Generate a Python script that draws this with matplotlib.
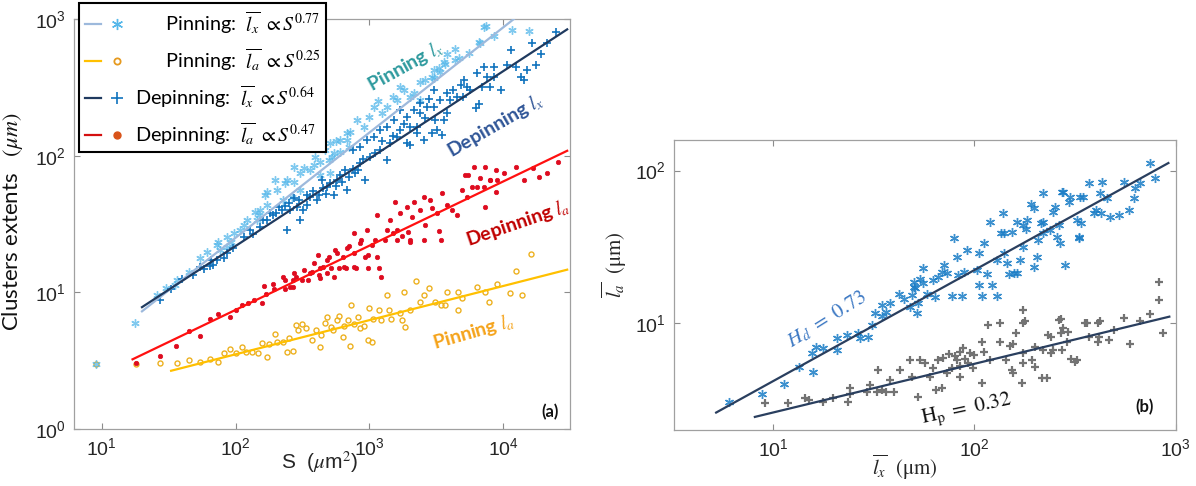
import numpy as np
import matplotlib
matplotlib.use("Agg")
import matplotlib.pyplot as plt
from matplotlib.lines import Line2D
from matplotlib.legend_handler import HandlerTuple
from matplotlib.ticker import NullLocator

plt.rcParams['font.family'] = ['Liberation Sans', 'DejaVu Sans']
plt.rcParams['mathtext.fontset'] = 'stix'

# ---------------- panel (a): cluster extents vs area S ----------------
pin_lx_pts = [(9, 3.0), (17.6, 6.0), (26, 9.5), (30, 10.8), (35, 11.3), (36.5, 12.3), (44.6, 14.2),
              (54.3, 17.7), (61, 19.8), (72.4, 22.2), (73.3, 23.5), (76.7, 20.4), (86.1, 25.5),
              (86.5, 21.6), (92.5, 23.5), (98, 27), (108, 28.6), (115, 31), (121, 33.8), (140, 38.9),
              (144, 33.8), (150, 36.7), (153, 40), (166, 51.5), (171, 43.5), (171, 54.5), (197, 66.3),
              (204, 56), (228, 47.3), (235, 62.7), (242, 66.3), (264, 50), (271, 64.4), (271, 83),
              (304, 74.3), (304, 56), (322, 80.7), (361, 78.5), (383, 85.3), (390, 98.2), (429, 72.1),
              (429, 90.2), (468, 110), (496, 92.9), (510, 123), (510, 74.3), (525, 98.2), (545, 104),
              (560, 128), (606, 107), (606, 130), (680, 130), (680, 146), (699, 116), (720, 150),
              (807, 182), (904, 163), (986, 193), (1074, 228), (1150, 250), (1242, 204), (1355, 228),
              (1500, 270), (1607, 255), (1703, 319), (1800, 300), (2000, 270), (2143, 286), (2404, 347),
              (2404, 255), (2600, 360), (2910, 378), (3020, 423), (3020, 367), (3300, 440), (3390, 411),
              (3590, 486), (3700, 470), (3800, 559), (4390, 600), (4390, 500), (4700, 520), (5500, 560),
              (6560, 681), (6740, 663), (7145, 877), (7480, 887), (8490, 750), (11640, 829), (15520, 820)]

pin_la_pts = [(9, 3.0), (17.9, 2.99), (27.1, 3.03), (36.5, 3.03), (45.1, 3.2), (54.3, 3.1), (64.1, 3.24),
              (73.3, 3.07), (81.9, 3.58), (91.2, 3.83), (100.7, 3.58), (111, 3.96), (120, 3.67),
              (133, 3.67), (147, 3.58), (157, 4.24), (171, 3.35), (179, 4.2), (198, 4.95), (204, 4.35),
              (226, 4.3), (241, 3.67), (249, 4.61), (267, 3.75), (281, 5.77), (294, 5.3), (314, 5.85),
              (336, 5.45), (371, 4.48), (396, 5.3), (424, 4.0), (438, 4.87), (468, 5.93), (483, 6.56),
              (517, 5.6), (534, 5.3), (571, 6.27), (590, 6.7), (631, 4.73), (651, 5.7), (697, 6.27),
              (720, 4.05), (730, 8.07), (769, 5.9), (822, 6.56), (849, 5.45), (908, 5.7), (990, 7.64),
              (970, 4.48), (1038, 4.35), (1072, 6.4), (1183, 7.4), (1224, 6.27), (1350, 9.55),
              (1397, 7.4), (1446, 6.4), (1703, 7.02), (1762, 6.27), (1820, 10.1), (1840, 5.6),
              (2010, 7.4), (2220, 12.2), (2370, 8.54), (2535, 9.55), (2800, 10.7), (3090, 8.54),
              (3415, 8.07), (3650, 8.07), (3775, 10.1), (4605, 10.1), (4605, 7.4), (4910, 9.04),
              (6400, 10.9), (7310, 10.1), (7810, 8.54), (8930, 11.5), (11240, 9.84), (12420, 14.3),
              (13740, 9.55), (16200, 19.0)]

dep_lx_pts = [(27.1, 8.79), (33, 10.5), (40, 12.5), (48, 13.5), (54.3, 15.4), (58, 14.8), (64.1, 15.6),
              (65, 17.2), (68.4, 15.8), (72.4, 17.2), (82.5, 17.7), (86.1, 19.3), (96.4, 21), (115, 25.5),
              (129, 28.6), (136, 26.5), (153, 30.2), (160, 34), (171, 33.8), (181, 37.8), (192, 36.7),
              (200, 38), (210, 42), (222, 40), (235, 43), (242, 28.6), (250, 45), (256, 40), (271, 48.7),
              (287, 42.3), (300, 47), (304, 33.8), (320, 40), (341, 43.5), (341, 51.5), (361, 50),
              (380, 55), (405, 47.3), (417, 51.5), (442, 66.3), (450, 58), (470, 52), (482, 59.2),
              (510, 62.7), (540, 51.5), (560, 60), (573, 66.3), (606, 72.1), (620, 64), (661, 78.5),
              (680, 56), (700, 70), (750, 80), (760, 110), (785, 74.3), (820, 78), (854, 116),
              (855, 87.9), (900, 95), (930, 66.3), (959, 130), (1016, 98.2), (1074, 137), (1100, 105),
              (1208, 110), (1208, 154), (1250, 128), (1355, 92.9), (1355, 163), (1432, 123),
              (1500, 140), (1517, 182), (1607, 137), (1703, 216), (1703, 154), (1800, 170), (1900, 123),
              (1910, 193), (2025, 120), (2025, 163), (2143, 216), (2270, 146), (2270, 163), (2404, 242),
              (2404, 204), (2543, 130), (2600, 190), (2697, 228), (2800, 260), (2940, 146), (3020, 302),
              (3020, 228), (3110, 182), (3204, 154), (3390, 255), (3494, 142), (3590, 182), (3800, 286),
              (3800, 204), (3980, 255), (4200, 300), (4520, 270), (4800, 330), (5000, 270), (5120, 357),
              (5370, 319), (5640, 300), (6200, 222), (6380, 400), (6600, 240), (6950, 319), (7145, 448),
              (7570, 378), (8020, 319), (8490, 448), (8490, 378), (9540, 300), (10700, 460),
              (11320, 593), (12500, 448), (13460, 378), (14260, 357), (15100, 423), (16430, 663),
              (17420, 460), (18970, 559), (21300, 663), (24600, 806)]

dep_la_pts = [(17.9, 3.05), (27.1, 3.44), (36.1, 4.05), (45.1, 5.21), (54.3, 4.79), (64.1, 6.34),
              (73.3, 6.94), (91.2, 6.56), (100.7, 7.43), (111, 8.07), (123, 8.3), (137, 8.79),
              (157, 8.4), (162, 11.1), (168, 9.72), (192, 11.6), (194, 10.6), (228, 13), (233, 12.3),
              (233, 10.5), (256, 11), (267, 12.3), (267, 11), (271, 13.8), (285, 13), (314, 12.4),
              (322, 14.6), (347, 12.3), (361, 13.8), (375, 14.2), (383, 16.3), (410, 18.7), (423, 13.4),
              (429, 15), (429, 12.7), (453, 15.4), (482, 13.8), (483, 17.2), (496, 18.2), (517, 15),
              (540, 13), (552, 20.4), (573, 19.3), (590, 15), (631, 18.2), (642, 15.4), (674, 15),
              (680, 21), (700, 22), (762, 27), (762, 15.4), (769, 19.3), (795, 15), (849, 22.8),
              (870, 24), (931, 18.2), (959, 28.6), (970, 15), (970, 18.7), (1038, 22.2), (1107, 24.1),
              (1140, 36.7), (1143, 18.2), (1180, 15), (1224, 13), (1307, 24.1), (1355, 28.6),
              (1432, 33.8), (1492, 27), (1563, 46), (1595, 24.1), (1620, 28.6), (1703, 37.8),
              (1760, 25.8), (1910, 42.3), (1946, 27.8), (2010, 24.1), (2025, 23.4), (2083, 35.7),
              (2143, 46), (2404, 40), (2535, 24.1), (2543, 50), (2600, 31), (2856, 47.3), (2940, 41.2),
              (3204, 37.8), (3300, 28), (3415, 24.1), (3494, 53), (3805, 43.5), (4146, 40), (4520, 36.7),
              (4928, 56), (5218, 72.1), (5370, 50), (5420, 72.1), (5851, 59.2), (6016, 82), (6400, 59.2),
              (6745, 68.2), (7145, 59.2), (7310, 83), (7356, 42.3), (7900, 66), (8020, 66.3),
              (8750, 54.5), (8750, 78.5), (8930, 66.3), (10190, 74.3), (12420, 83), (14190, 66.3),
              (16750, 80.7), (18500, 70.1), (21100, 74.3), (25800, 90.2)]

# power-law fits: (S from, S to, prefactor, exponent)
fit_pin_lx = (20, 12000, 0.723, 0.77)
fit_pin_la = (33, 30000, 1.113, 0.25)
fit_dep_lx = (20, 30000, 1.145, 0.64)
fit_dep_la = (17, 30000, 0.854, 0.47)

# ---------------- panel (b): l_a vs l_x ----------------
dep_pts_b = [(6.04, 3.02), (8.75, 3.40), (11.3, 3.95), (13.5, 5.14), (15.8, 4.74), (15.6, 6.3),
             (16.3, 6.9), (17.7, 6.8), (20.7, 6.6), (20.7, 7.9), (23.2, 8.3), (26.5, 8.6), (27, 7.9),
             (29.7, 8.1), (30.9, 9.7), (32.1, 11.5), (34.6, 13.1), (36.5, 11.7), (38.1, 13.4),
             (34.6, 11.0), (44.4, 14.3), (42, 15.5), (47.9, 12.6), (48.9, 15.2), (51.6, 11.6),
             (52.5, 13.5), (50.7, 16.8), (50.2, 18.6), (55.7, 18.2), (58, 15.5), (63.7, 14.8),
             (66.2, 20.1), (69, 21.7), (77.3, 15.0), (86.5, 15.0), (83.2, 20.6), (89, 21.5), (105, 17.7),
             (109, 15.0), (122, 17.7), (129, 15.0), (116, 21), (148, 20.9), (162, 21.2), (53.5, 19.5),
             (49.8, 17.3), (55.7, 22.8), (62, 19), (70.2, 24), (73, 21.1), (78.7, 35.9), (81.7, 27.2),
             (91.6, 30.1), (103, 22.2), (105, 28.6), (111, 33.3), (120, 46.1), (129, 25.9), (139, 52.5),
             (136, 38.7), (153, 39.7), (162, 46.1), (175, 31.6), (180, 41.5), (197, 56.6), (204, 27.2),
             (220, 38.7), (220, 46.1), (247, 53.7), (257, 36.8), (282, 24), (277, 72.8), (296, 62.5),
             (324, 47.4), (330, 35.9), (348, 67.5), (369, 82.6), (391, 52.5), (420, 71), (220, 71),
             (748, 112), (792, 90), (667, 82.6), (630, 76.6), (618, 65.8), (583, 55.1), (551, 84.7),
             (520, 51.2), (430, 84.7), (456, 65.8), (470, 49.8), (425, 52.5), (401, 55), (336, 67.5),
             (299, 67.5), (272, 72.8), (190, 60), (250, 58), (340, 45), (329, 36.8), (267, 33.3),
             (238, 40.7), (214, 45), (206, 35), (182, 47.4), (169, 25.9), (145, 24.6), (157, 21.1),
             (141, 28.6), (141, 38.7), (175, 43.7), (197, 23.3), (262, 43.7)]

pin_pts_b = [(9.1, 2.95), (11.9, 2.98), (14.4, 3.18), (15, 3.1), (17.7, 3.02), (19.9, 3.21), (23.6, 3.02),
             (24, 3.4), (24.1, 3.7), (29.2, 3.52), (30.3, 3.89), (32.7, 3.52), (33.3, 4.89), (34.6, 3.6),
             (36.5, 3.52), (38.1, 4.2), (40, 3.52), (42.7, 4.89), (47.9, 5.69), (49, 4.42), (52.6, 3.26),
             (53.5, 5.69), (56.5, 5.4), (60.3, 4.42), (62, 5.0), (64.6, 3.6), (66.2, 5.69), (69, 3.7),
             (70, 5.9), (73, 4.65), (75, 6.2), (77.3, 5.0), (80, 6.0), (81.7, 5.69), (84.9, 6.44),
             (85, 5.2), (88, 6.8), (84.9, 4.42), (90, 5.8), (93.3, 5.4), (95, 6.3), (98, 5.0), (100, 6.14),
             (109, 3.99), (109, 7.5), (112, 6.44), (120, 5.69), (134, 7.5), (134, 9.9), (117, 9.7),
             (143, 5.69), (150, 7.0), (153, 4.89), (155, 7.3), (160, 8.5), (156, 4.65), (172, 3.99),
             (175, 12.1), (175, 9.9), (175, 5.4), (175, 6.3), (178, 10.2), (193, 5.69), (199, 6.95),
             (199, 5.13), (216, 4.31), (219, 6.6), (230, 4.31), (233, 8.3), (240, 8.0), (240, 6.3),
             (245, 6.6), (262, 10.4), (268, 8.5), (268, 10.6), (271, 6.6), (275, 9.2), (288, 7.5),
             (290, 8.7), (302, 5.8), (316, 5.55), (324, 5.69), (355, 9.9), (362, 9.9), (370, 8.1),
             (410, 9.9), (410, 7.5), (415, 8.1), (422, 10.2), (468, 7.7), (492, 8.95), (551, 10.7),
             (596, 7.3), (667, 10.2), (748, 11.4), (822, 18.6), (822, 14.1), (865, 8.5)]

# (l_x from, l_x to, prefactor, exponent)
fit_dep_b = (5.2, 920, 0.77, 0.73)
fit_pin_b = (8.1, 930, 1.23, 0.32)


def fit_line(ax, fit, **kw):
    x0, x1, a, p = fit
    x = np.geomspace(x0, x1, 60)
    ax.plot(x, a * x ** p, **kw)


def style_axes(ax):
    ax.set_xscale('log')
    ax.set_yscale('log')
    ax.xaxis.set_minor_locator(NullLocator())
    ax.yaxis.set_minor_locator(NullLocator())
    ax.tick_params(which='major', direction='in', top=True, right=True, length=4, width=0.8,
                   color='#8c8c8c', labelcolor='#262626', labelsize=14, pad=6)
    for sp in ax.spines.values():
        sp.set_color('#a0a0a0')
        sp.set_linewidth(0.9)


fig = plt.figure(figsize=(11.96, 4.86), dpi=100)
axa = fig.add_axes([0.0621, 0.1173, 0.4145, 0.8436])
axb = fig.add_axes([0.5633, 0.1152, 0.4197, 0.5967])

star = (6, 2, 0)
c_pin_lx, c_pin_lx_line = '#56b8ea', '#9db9dc'
c_pin_la, c_pin_la_line = '#edb120', '#ffc000'
c_dep_lx, c_dep_lx_line = '#1173bd', '#1f3a5f'
c_dep_la, c_dep_la_line = '#de0b1f', '#ff1010'

S, v = zip(*pin_la_pts)
axa.plot(S, v, ls='none', marker='o', ms=3.6, mfc='none', mec=c_pin_la, mew=1.0, zorder=2)
S, v = zip(*dep_la_pts)
axa.plot(S, v, ls='none', marker='o', ms=3.2, mfc=c_dep_la, mec=c_dep_la, mew=0.5, zorder=2)
S, v = zip(*pin_lx_pts)
axa.plot(S, v, ls='none', marker=star, ms=6, mec=c_pin_lx, mew=1.0, alpha=0.75, zorder=2)
S, v = zip(*dep_lx_pts)
axa.plot(S, v, ls='none', marker='+', ms=6, mec=c_dep_lx, mew=1.2, zorder=2)

fit_line(axa, fit_pin_lx, color=c_pin_lx_line, lw=1.6, zorder=3)
fit_line(axa, fit_pin_la, color=c_pin_la_line, lw=1.6, zorder=3)
fit_line(axa, fit_dep_lx, color=c_dep_lx_line, lw=1.6, zorder=3)
fit_line(axa, fit_dep_la, color=c_dep_la_line, lw=1.6, zorder=3)

style_axes(axa)
axa.set_xlim(6.24, 31500)
axa.set_ylim(1, 1000)
axa.set_xticks([10, 100, 1000, 10000])
axa.set_yticks([1, 10, 100, 1000])

axa.set_xlabel(r'S  ($\mu$m$^2$)', fontsize=15, color='#262626')
axa.xaxis.set_label_coords(0.494, -0.05)
axa.set_ylabel(r'Clusters extents   $(\mu m)$', fontsize=16, family='Lato', color='#111111')
axa.yaxis.set_label_coords(-0.10, 0.505)

ann = dict(family='Lato', fontweight='bold', fontsize=14, ha='center', va='center',
           rotation_mode='anchor')
axa.text(1855, 452, r'Pinning $l_x$', color='#2e9a9e', rotation=29, **ann)
axa.text(8750, 167, r'Depinning $l_x$', color='#2f5597', rotation=30, **ann)
axa.text(12760, 32, r'Depinning $l_a$', color='#c00000', rotation=19, **ann)
axa.text(5985, 5.17, r'Pinning $l_a$', color='#f5a31a', rotation=16, **ann)
axa.text(0.96, 0.04, '(a)', transform=axa.transAxes, family='Lato', fontweight='bold',
         fontsize=12, ha='center', va='center', color='#111111')

handles = [
    (Line2D([], [], color=c_pin_lx_line, lw=1.6),
     Line2D([], [], ls='none', marker=star, ms=8, mec=c_pin_lx, mew=1.0)),
    (Line2D([], [], color=c_pin_la_line, lw=1.6),
     Line2D([], [], ls='none', marker='o', ms=4.5, mfc='none', mec='#e69a1f', mew=1.3)),
    (Line2D([], [], color=c_dep_lx_line, lw=1.6),
     Line2D([], [], ls='none', marker='+', ms=9, mec=c_dep_lx, mew=1.2)),
    (Line2D([], [], color='#d40f0f', lw=1.6),
     Line2D([], [], ls='none', marker='o', ms=5, mfc='#d95319', mec='#d95319')),
]
labels = [
    r'      Pinning:  $\overline{l_x}\ \propto S^{0.77}$',
    r'      Pinning:  $\overline{l_a}\ \propto S^{0.25}$',
    r'Depinning:  $\overline{l_x}\ \propto S^{0.64}$',
    r'Depinning:  $\overline{l_a}\ \propto S^{0.47}$',
]
leg = fig.legend(handles, labels, loc='upper left', bbox_to_anchor=(0.066, 0.994),
                 bbox_transform=fig.transFigure, borderaxespad=0,
                 handler_map={tuple: HandlerTuple(ndivide=None, pad=0.4)},
                 prop={'family': 'Lato', 'size': 14.3}, handlelength=2.0, handletextpad=0.5,
                 labelspacing=0.5, borderpad=0.3, fancybox=False, framealpha=1)
leg.get_frame().set_edgecolor('black')
leg.get_frame().set_linewidth(1.5)

# ---- panel (b)
x, y = zip(*dep_pts_b)
axb.plot(x, y, ls='none', marker=star, ms=6.5, mec='#1a7dc6', mew=1.0, alpha=0.85, zorder=2)
x, y = zip(*pin_pts_b)
axb.plot(x, y, ls='none', marker='+', ms=6, mec='#737373', mew=1.6, zorder=2)
fit_line(axb, fit_dep_b, color='#2a3f5f', lw=1.6, zorder=3)
fit_line(axb, fit_pin_b, color='#2a3f5f', lw=1.6, zorder=3)

style_axes(axb)
axb.set_xlim(3.2, 1000)
axb.set_ylim(1.97, 159)
axb.set_xticks([10, 100, 1000])
axb.set_yticks([10, 100])

axb.set_xlabel(r'$\overline{l_x}\ \ (\mathrm{\mu m})$', fontsize=15, color='#262626')
axb.xaxis.set_label_coords(0.46, -0.08)
axb.set_ylabel(r'$\overline{l_a}\ \ (\mathrm{\mu m})$', fontsize=15, color='#262626')
axb.yaxis.set_label_coords(-0.09, 0.57)

axb.text(18.5, 10.6, r'$H_d\ =\ 0.73$', color='#3c78c3', fontsize=15, rotation=32,
         ha='center', va='center', rotation_mode='anchor')
axb.text(91, 2.67, r'$\mathrm{H_p}\ =\ 0.32$', color='#111111', fontsize=15, rotation=12,
         ha='center', va='center', rotation_mode='anchor')
axb.text(0.939, 0.08, '(b)', transform=axb.transAxes, family='Lato', fontweight='bold',
         fontsize=12, ha='center', va='center', color='#111111')

fig.savefig('out.png', dpi=100)
